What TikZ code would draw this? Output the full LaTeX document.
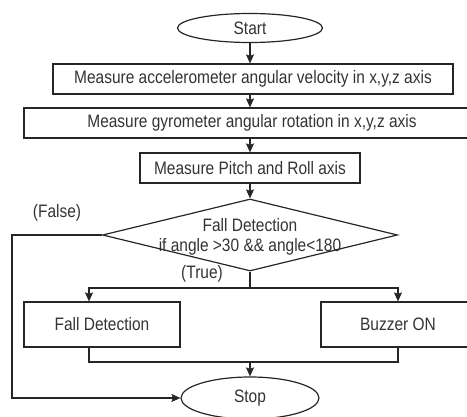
\documentclass[tikz,border=0pt]{standalone}
\usepackage{fontspec}
\setmainfont{Liberation Sans}[FakeStretch=0.86]
\usetikzlibrary{shapes.geometric,arrows.meta}

\begin{document}
\begin{tikzpicture}[x=1pt,y=-1pt,line width=1.2pt,draw=black!85,
        font=\fontsize{18}{20}\selectfont,text=black!80,
        term/.style={ellipse,draw,inner sep=0pt},
        proc/.style={rectangle,draw,inner sep=0pt,minimum height=30pt},
        decision/.style={diamond,draw,inner sep=0pt,minimum width=295pt,minimum height=72pt},
        arr/.style={-{Stealth[length=9pt,width=8pt,inset=1.5pt]}}]
        \clip (0,0) rectangle (467,417);
        \node[term,minimum width=145pt,minimum height=29pt] (start) at (250,28) {Start};
        \node[proc,minimum width=400pt] (acc) at (253,79) {Measure accelerometer angular velocity in x,y,z axis};
        \node[proc,minimum width=456pt] (gyro) at (252,123) {Measure gyrometer angular rotation in x,y,z axis};
        \node[proc,minimum width=220pt] (pitch) at (250,168) {Measure Pitch and Roll axis};
        \node[decision] (dec) at (250,235) {};
        \node (dectop) at (250,225) {Fall Detection};
        \node (decbot) at (250,247) {if angle >30 \&\& angle<180};
        \node[proc,minimum width=156pt,minimum height=45pt] (falldet) at (102,324.5) {Fall Detection};
        \node[proc,minimum width=154pt,minimum height=45pt] (buzz) at (398,324.5) {Buzzer ON};
        \node[term,minimum width=138pt,minimum height=42pt] (stop) at (250,398) {Stop};
        \node (false) at (57,213) {(False)};
        \node (true) at (202,274) {(True)};
        \coordinate (split) at (250,288);
        \coordinate (merge) at (250,362);
        \coordinate (back) at (12,235);
        \draw[arr] (start.south) -- (start.south |- acc.north);
        \draw[arr] (acc.south -| pitch.north) -- (gyro.north -| pitch.north);
        \draw[arr] (gyro.south -| pitch.north) -- (pitch.north);
        \draw[arr] (pitch.south) -- (dec.north);
        \draw (dec.south) -- (split);
        \draw[arr] (split) -| ([xshift=-13pt]falldet.north);
        \draw[arr] (split) -| (buzz.north);
        \draw ([xshift=-13pt]falldet.south) |- (buzz.south |- merge) -- (buzz.south);
        \draw[arr] (merge) -- (stop.north);
        \draw[arr] (dec.west) -- (back) |- (stop.west);
    \end{tikzpicture}
\end{document}
